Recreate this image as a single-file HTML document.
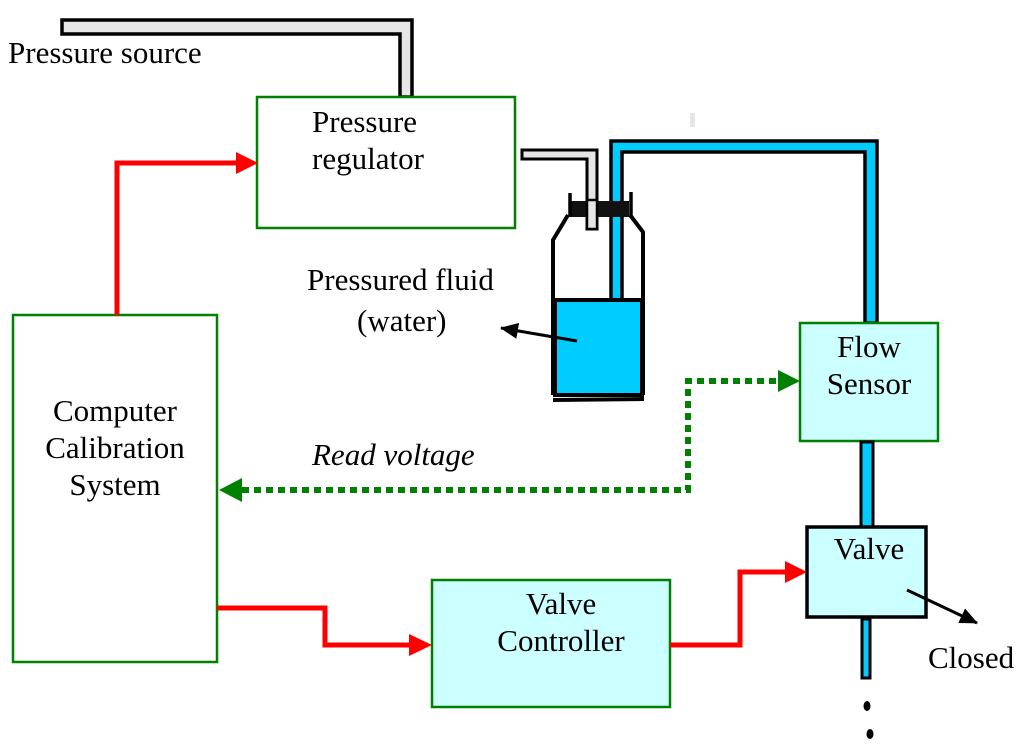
<!DOCTYPE html>
<html><head><style>
html,body{margin:0;padding:0;background:#fff;}
svg{display:block;}
text{font-family:"Liberation Serif",serif;font-size:31px;fill:#000;}
</style></head><body>
<svg width="1024" height="752" viewBox="0 0 1024 752" xmlns="http://www.w3.org/2000/svg">
<defs>
<marker id="ar" markerWidth="18" markerHeight="16" refX="17" refY="8" orient="auto" markerUnits="userSpaceOnUse" viewBox="0 0 18 16"><path d="M0,0 L18,8 L0,16 Z" fill="#000"/></marker>
</defs>
<polygon points="62,20 412,20 412,97 400,97 400,34 62,34" fill="#e6e6e6" stroke="#000" stroke-width="3.5"/>
<text x="8" y="63">Pressure source</text>
<rect x="257" y="97" width="258" height="131" fill="#fff" stroke="#008000" stroke-width="2.5"/>
<text x="312" y="132">Pressure</text>
<text x="312" y="169">regulator</text>
<polygon points="522,150 597,150 597,229 587,229 587,159 522,159" fill="#e6e6e6" stroke="#000" stroke-width="3"/>
<polygon points="611,141 877,141 877,323 865,323 865,152 622,152 622,300 611,300" fill="#00ccff" stroke="#000" stroke-width="3.5"/>
<path d="M553,395 L553,240 L568,215 M643,395 L643,232 L630,215" fill="none" stroke="#000" stroke-width="4"/>
<rect x="569" y="201" width="60" height="16" fill="#111"/>
<line x1="570" y1="193" x2="570" y2="217" stroke="#000" stroke-width="3.5"/>
<line x1="631" y1="192" x2="631" y2="217" stroke="#000" stroke-width="3.5"/>
<rect x="587" y="200" width="10" height="29" fill="#e6e6e6" stroke="#000" stroke-width="2.5"/>
<rect x="555" y="300" width="87" height="95" fill="#00ccff" stroke="#000" stroke-width="4"/>
<line x1="553" y1="400" x2="644" y2="399" stroke="#000" stroke-width="4"/>
<line x1="577" y1="341" x2="501" y2="328" stroke="#000" stroke-width="3" marker-end="url(#ar)"/>
<text x="307" y="290">Pressured fluid</text>
<text x="357" y="331">(water)</text>
<rect x="690" y="113" width="5" height="14" fill="#e6e6e6"/>
<rect x="800" y="323" width="138" height="118" fill="#ccffff" stroke="#008000" stroke-width="2.5"/>
<text x="869" y="357" text-anchor="middle">Flow</text>
<text x="869" y="394" text-anchor="middle">Sensor</text>
<rect x="861" y="442" width="12" height="85" fill="#00ccff" stroke="#000" stroke-width="3"/>
<rect x="807" y="527" width="119" height="90" fill="#ccffff" stroke="#000" stroke-width="3.5"/>
<text x="869" y="559" text-anchor="middle">Valve</text>
<rect x="862" y="619" width="8" height="59" fill="#00ccff" stroke="#000" stroke-width="3"/>
<ellipse cx="867" cy="706" rx="3.5" ry="5" fill="#000"/>
<ellipse cx="870" cy="734" rx="3.5" ry="5" fill="#000"/>
<line x1="907" y1="590" x2="977" y2="623" stroke="#000" stroke-width="3" marker-end="url(#ar)"/>
<text x="928" y="668">Closed</text>
<rect x="13" y="315" width="204" height="347" fill="#fff" stroke="#008000" stroke-width="2.5"/>
<text x="115" y="421" text-anchor="middle">Computer</text>
<text x="115" y="458" text-anchor="middle">Calibration</text>
<text x="115" y="495" text-anchor="middle">System</text>
<rect x="432" y="580" width="238" height="127" fill="#ccffff" stroke="#008000" stroke-width="2.5"/>
<text x="561" y="614" text-anchor="middle">Valve</text>
<text x="561" y="651" text-anchor="middle">Controller</text>
<polyline points="117,315 117,163 237,163" fill="none" stroke="#ff0000" stroke-width="5"/>
<polygon points="236,152 258,163 236,174" fill="#ff0000"/>
<polyline points="217,608 325,608 325,645 410,645" fill="none" stroke="#ff0000" stroke-width="5"/>
<polygon points="409,634 432,645 409,656" fill="#ff0000"/>
<polyline points="670,645 740,645 740,572 786,572" fill="none" stroke="#ff0000" stroke-width="5"/>
<polygon points="785,561 807,572 785,583" fill="#ff0000"/>
<polyline points="242,490 688,490 688,381 780,381" fill="none" stroke="#008000" stroke-width="6" stroke-dasharray="7,5"/>
<polygon points="219,490 242,478 242,502" fill="#008000"/>
<polygon points="778,370 800,381 778,392" fill="#008000"/>
<text x="312" y="465" font-style="italic">Read voltage</text>
</svg>
</body></html>
